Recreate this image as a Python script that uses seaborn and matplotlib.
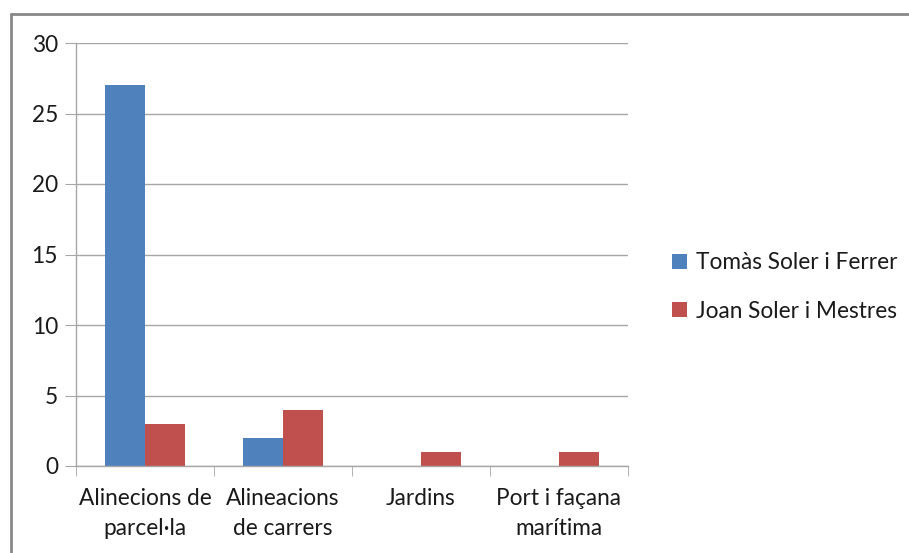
import matplotlib
matplotlib.use("Agg")
import matplotlib.pyplot as plt
import seaborn as sns
import pandas as pd
from matplotlib.lines import Line2D
from matplotlib.patches import Patch

categories = ["Alinecions de\nparcel·la", "Alineacions\nde carrers", "Jardins", "Port i façana\nmarítima"]
series_names = ["Tomàs Soler i Ferrer", "Joan Soler i Mestres"]
tomas = [27, 2, 0, 0]
joan = [3, 4, 1, 1]
y_ticks = [0, 5, 10, 15, 20, 25, 30]
colors = ["#4F81BD", "#C0504D"]

df = pd.DataFrame({
    "cat": categories * 2,
    "serie": [series_names[0]] * 4 + [series_names[1]] * 4,
    "val": tomas + joan,
})

sns.set_style("white")
plt.rcParams["font.family"] = ["Lato", "DejaVu Sans"]
FS = 16.3
TXT = "#1a1a1a"

fig = plt.figure(figsize=(9.09, 5.53), dpi=100)
ax = fig.add_axes([76 / 909, 1 - 466 / 553, (628 - 76) / 909, (466 - 43) / 553])

sns.barplot(data=df, x="cat", y="val", hue="serie", palette=colors, width=0.58,
            ax=ax, saturation=1, legend=False, order=categories, hue_order=series_names)
for p in ax.patches:
    p.set_edgecolor("none")

ax.set_xlim(-0.5, 3.5)
ax.set_ylim(0, 30)
ax.set_yticks(y_ticks)
ax.set_xlabel("")
ax.set_ylabel("")
grid_c = "#A6A6A6"
ax.yaxis.grid(True, color=grid_c, linewidth=1)
ax.set_axisbelow(True)
for s in ["top", "right"]:
    ax.spines[s].set_visible(False)
for s in ["left", "bottom"]:
    ax.spines[s].set_color(grid_c)
    ax.spines[s].set_linewidth(1)

ax.tick_params(axis="y", which="major", length=8, color=grid_c, labelsize=FS,
               labelcolor=TXT, pad=5, direction="out", left=True)
ax.set_xticks([-0.5, 0.5, 1.5, 2.5, 3.5], minor=True)
ax.tick_params(axis="x", which="minor", length=7, color=grid_c, direction="out", bottom=True)
ax.tick_params(axis="x", which="major", length=0, labelsize=FS, labelcolor=TXT, pad=16)
for lbl in ax.get_xticklabels():
    lbl.set_linespacing(1.5)

handles = [Patch(facecolor=c, edgecolor="none") for c in colors]
leg = fig.legend(handles, series_names, loc="center left", bbox_to_anchor=(652 / 909, 1 - 287 / 553),
                 frameon=False, fontsize=FS, handlelength=0.65, handleheight=0.65,
                 handletextpad=0.4, labelspacing=1.2, labelcolor=TXT)

# outer chart border (top and left visible)
fig.add_artist(Line2D([11 / 909, 11 / 909], [0, 1 - 14 / 553], transform=fig.transFigure,
                      color="#888888", linewidth=2))
fig.add_artist(Line2D([11 / 909, 1], [1 - 14 / 553, 1 - 14 / 553], transform=fig.transFigure,
                      color="#888888", linewidth=2))

fig.savefig("out.png", dpi=100)
